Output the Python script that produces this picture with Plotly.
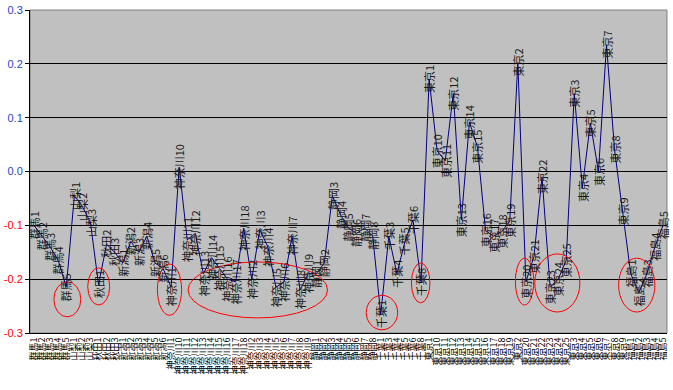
import plotly.graph_objects as go

# Categories (string-sorted within each prefecture, as in the source)
districts = (
    ["群馬1", "群馬2", "群馬3", "群馬4", "群馬5"]
    + ["山梨1", "山梨2", "山梨3"]
    + ["秋田1", "秋田2", "秋田3"]
    + ["新潟1", "新潟2", "新潟3", "新潟4", "新潟5", "新潟6"]
    + ["神奈川1", "神奈川10", "神奈川11", "神奈川12", "神奈川13", "神奈川14", "神奈川15",
       "神奈川16", "神奈川17", "神奈川18", "神奈川2", "神奈川3", "神奈川4", "神奈川5",
       "神奈川6", "神奈川7", "神奈川8", "神奈川9"]
    + ["静岡1", "静岡2", "静岡3", "静岡4", "静岡5", "静岡6", "静岡7", "静岡8"]
    + ["千葉1", "千葉3", "千葉4", "千葉5", "千葉6", "千葉8"]
    + ["東京1", "東京10", "東京11", "東京12", "東京13", "東京14", "東京15", "東京16",
       "東京17", "東京18", "東京19", "東京2", "東京20", "東京21", "東京22", "東京23",
       "東京24", "東京25", "東京3", "東京4", "東京5", "東京6", "東京7", "東京8", "東京9"]
    + ["福島1", "福島2", "福島3", "福島4", "福島5"]
)

values = (
    [-0.100, -0.120, -0.140, -0.165, -0.215]
    + [-0.045, -0.065, -0.095]
    + [-0.210, -0.135, -0.150]
    + [-0.170, -0.130, -0.150, -0.120, -0.170, -0.180]
    + [-0.215, 0.008, -0.127, -0.115, -0.190, -0.160, -0.180,
       -0.200, -0.205, -0.105, -0.200, -0.108, -0.140, -0.215,
       -0.205, -0.120, -0.220, -0.190]
    + [-0.190, -0.170, -0.045, -0.080, -0.105, -0.115, -0.105, -0.120]
    + [-0.265, -0.120, -0.190, -0.130, -0.090, -0.205]
    + [0.172, 0.038, 0.020, 0.145, -0.090, 0.092, 0.045, -0.110,
       -0.120, -0.112, -0.092, 0.202, -0.205, -0.158, -0.010, -0.215,
       -0.200, -0.165, 0.145, -0.030, 0.090, 0.000, 0.235, 0.040, -0.075]
    + [-0.190, -0.225, -0.190, -0.140, -0.100]
)

y_ticks = [-0.3, -0.2, -0.1, 0.0, 0.1, 0.2, 0.3]

# highlighted groups: (first index, last index, low value, high value)
ellipses = [
    (2.46, 5.8, -0.270, -0.205),
    (6.66, 9.38, -0.248, -0.179),
    (15.3, 18.3, -0.267, -0.172),
    (19.1, 36.4, -0.272, -0.168),
    (41.2, 45.1, -0.294, -0.230),
    (46.8, 49.1, -0.244, -0.170),
    (59.7, 61.97, -0.248, -0.161),
    (62.1, 67.7, -0.261, -0.153),
    (72.5, 77.0, -0.261, -0.161),
]

fig = go.Figure()
fig.add_trace(go.Scatter(
    x=districts, y=values, mode="lines",
    line=dict(color="#000080", width=1),
    hoverinfo="x+y", showlegend=False,
))

for d, v in zip(districts, values):
    fig.add_annotation(
        x=d, y=v, text=d, showarrow=False, textangle=-90,
        font=dict(family="Noto Sans CJK JP", size=11, color="#1a1a1a"),
        xanchor="center", yanchor="middle",
    )

for x0, x1, y0, y1 in ellipses:
    fig.add_shape(type="circle", xref="x", yref="y", x0=x0, x1=x1, y0=y0, y1=y1,
                  line=dict(color="#FF0000", width=1), fillcolor="rgba(0,0,0,0)")

tick_text = []
for t in y_ticks:
    s = f"{t:.1f}"
    if t < 0:
        tick_text.append(f'<span style="color:#FF0000">{s}</span>')
    else:
        tick_text.append(f'<span style="color:#1F3FBF">{s}</span>')

fig.update_layout(
    width=673, height=390,
    margin=dict(l=29, r=4, t=10, b=57),
    paper_bgcolor="white",
    plot_bgcolor="#C0C0C0",
    xaxis=dict(
        type="category",
        tickmode="array", tickvals=districts, ticktext=districts,
        tickangle=-90,
        tickfont=dict(family="Noto Sans CJK JP", size=9, color="black"),
        showgrid=False, zeroline=False,
        showline=True, linecolor="black", linewidth=1,
        ticks="", range=[-0.5, len(districts) - 0.5],
        mirror=False,
    ),
    yaxis=dict(
        range=[-0.3, 0.3],
        tickmode="array", tickvals=y_ticks, ticktext=tick_text,
        tickfont=dict(family="Arial, Liberation Sans", size=11),
        showgrid=True, gridcolor="black", gridwidth=1,
        zeroline=False,
        showline=True, linecolor="black", linewidth=1,
        ticks="outside", ticklen=4, tickcolor="black",
    ),
)
# grey frame on top / right
fig.add_shape(type="rect", xref="paper", yref="paper", x0=0, x1=1, y0=0, y1=1,
              line=dict(color="#808080", width=1), layer="below")

fig.write_html("out.html")
